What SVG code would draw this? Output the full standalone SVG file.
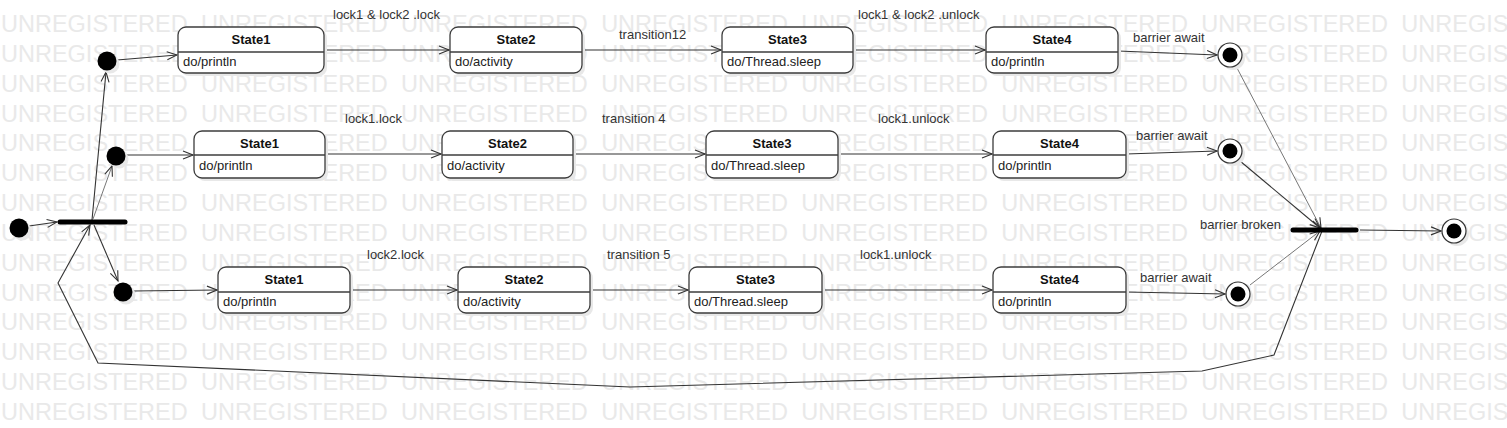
<svg xmlns="http://www.w3.org/2000/svg" width="1507" height="428" viewBox="0 0 1507 428">
<defs>
<style>
.wm{font-family:"Liberation Sans",Arial,sans-serif;font-size:23.5px;fill:#e9e9e9;word-spacing:6.8px}
.box{fill:#fff;stroke:#3c3c3c;stroke-width:1.3}
.shadow{fill:#e8e8e8}
.div{stroke:#3c3c3c;stroke-width:1.3}
.title{font-family:"Liberation Sans",Arial,sans-serif;font-size:13px;font-weight:bold;fill:#111;text-anchor:middle}
.body{font-family:"Liberation Sans",Arial,sans-serif;font-size:13px;fill:#222}
.lbl{font-family:"Liberation Sans",Arial,sans-serif;font-size:13px;fill:#333}
.conn{fill:none;stroke:#333;stroke-width:1.1}
.thin{fill:none;stroke:#777;stroke-width:1}
.bar{stroke:#000;stroke-width:5;stroke-linecap:round}
.init{fill:#000}
.fin{fill:#fff;stroke:#333;stroke-width:1.2}
</style>
<marker id="arr" viewBox="0 0 12 10" refX="11" refY="5" markerWidth="12" markerHeight="10" markerUnits="userSpaceOnUse" orient="auto">
<path d="M1,1 L11,5 L1,9" fill="none" stroke="#333" stroke-width="1.1"/>
</marker>
</defs>
<rect width="1507" height="428" fill="#fff"/>
<g id="watermark">
<text class="wm" x="1" y="32">UNREGISTERED UNREGISTERED UNREGISTERED UNREGISTERED UNREGISTERED UNREGISTERED UNREGISTERED UNREGISTERED</text>
<text class="wm" x="1" y="62">UNREGISTERED UNREGISTERED UNREGISTERED UNREGISTERED UNREGISTERED UNREGISTERED UNREGISTERED UNREGISTERED</text>
<text class="wm" x="1" y="92">UNREGISTERED UNREGISTERED UNREGISTERED UNREGISTERED UNREGISTERED UNREGISTERED UNREGISTERED UNREGISTERED</text>
<text class="wm" x="1" y="122">UNREGISTERED UNREGISTERED UNREGISTERED UNREGISTERED UNREGISTERED UNREGISTERED UNREGISTERED UNREGISTERED</text>
<text class="wm" x="1" y="151">UNREGISTERED UNREGISTERED UNREGISTERED UNREGISTERED UNREGISTERED UNREGISTERED UNREGISTERED UNREGISTERED</text>
<text class="wm" x="1" y="181">UNREGISTERED UNREGISTERED UNREGISTERED UNREGISTERED UNREGISTERED UNREGISTERED UNREGISTERED UNREGISTERED</text>
<text class="wm" x="1" y="211">UNREGISTERED UNREGISTERED UNREGISTERED UNREGISTERED UNREGISTERED UNREGISTERED UNREGISTERED UNREGISTERED</text>
<text class="wm" x="1" y="241">UNREGISTERED UNREGISTERED UNREGISTERED UNREGISTERED UNREGISTERED UNREGISTERED UNREGISTERED UNREGISTERED</text>
<text class="wm" x="1" y="271">UNREGISTERED UNREGISTERED UNREGISTERED UNREGISTERED UNREGISTERED UNREGISTERED UNREGISTERED UNREGISTERED</text>
<text class="wm" x="1" y="301">UNREGISTERED UNREGISTERED UNREGISTERED UNREGISTERED UNREGISTERED UNREGISTERED UNREGISTERED UNREGISTERED</text>
<text class="wm" x="1" y="330">UNREGISTERED UNREGISTERED UNREGISTERED UNREGISTERED UNREGISTERED UNREGISTERED UNREGISTERED UNREGISTERED</text>
<text class="wm" x="1" y="360">UNREGISTERED UNREGISTERED UNREGISTERED UNREGISTERED UNREGISTERED UNREGISTERED UNREGISTERED UNREGISTERED</text>
<text class="wm" x="1" y="390">UNREGISTERED UNREGISTERED UNREGISTERED UNREGISTERED UNREGISTERED UNREGISTERED UNREGISTERED UNREGISTERED</text>
<text class="wm" x="1" y="420">UNREGISTERED UNREGISTERED UNREGISTERED UNREGISTERED UNREGISTERED UNREGISTERED UNREGISTERED UNREGISTERED</text>
</g>
<g id="connectors">
<line class="conn" x1="29" y1="226" x2="57" y2="222" marker-end="url(#arr)"/>
<line class="conn" x1="92" y1="220" x2="106" y2="72" marker-end="url(#arr)"/>
<line class="thin" x1="93" y1="219" x2="112" y2="166" marker-end="url(#arr)"/>
<line class="conn" x1="94" y1="225" x2="118" y2="281" marker-end="url(#arr)"/>
<line class="conn" x1="117" y1="60" x2="177" y2="55" marker-end="url(#arr)"/>
<line class="conn" x1="126" y1="155" x2="193" y2="155" marker-end="url(#arr)"/>
<line class="conn" x1="133" y1="291" x2="217" y2="290" marker-end="url(#arr)"/>
<line class="conn" x1="324" y1="50" x2="449" y2="50" marker-end="url(#arr)"/>
<line class="conn" x1="582" y1="50" x2="721" y2="50" marker-end="url(#arr)"/>
<line class="conn" x1="853" y1="50" x2="985" y2="50" marker-end="url(#arr)"/>
<line class="conn" x1="325" y1="154" x2="441" y2="154" marker-end="url(#arr)"/>
<line class="conn" x1="573" y1="154" x2="705" y2="154" marker-end="url(#arr)"/>
<line class="conn" x1="838" y1="154" x2="992" y2="154" marker-end="url(#arr)"/>
<line class="conn" x1="350" y1="290" x2="457" y2="290" marker-end="url(#arr)"/>
<line class="conn" x1="590" y1="290" x2="688" y2="290" marker-end="url(#arr)"/>
<line class="conn" x1="822" y1="290" x2="992" y2="290" marker-end="url(#arr)"/>
<line class="conn" x1="1118" y1="51" x2="1217" y2="55" marker-end="url(#arr)"/>
<line class="conn" x1="1126" y1="154" x2="1217" y2="151" marker-end="url(#arr)"/>
<line class="conn" x1="1126" y1="292" x2="1225" y2="294" marker-end="url(#arr)"/>
<line class="thin" x1="1237" y1="68" x2="1321" y2="228" marker-end="url(#arr)"/>
<line class="conn" x1="1240" y1="161" x2="1320" y2="228" marker-end="url(#arr)"/>
<line class="thin" x1="1250" y1="285" x2="1320" y2="231" marker-end="url(#arr)"/>
<line class="conn" x1="1360" y1="230" x2="1441" y2="231" marker-end="url(#arr)"/>
<polyline class="conn" points="1322,231 1274,355 1202,371 630,387 98,363 58,283 90,225" marker-end="url(#arr)"/>
</g>
<g id="labels">
<text class="lbl" x="333" y="19">lock1 &amp; lock2 .lock</text>
<text class="lbl" x="619" y="39">transition12</text>
<text class="lbl" x="858" y="19">lock1 &amp; lock2 .unlock</text>
<text class="lbl" x="1133" y="42">barrier await</text>
<text class="lbl" x="345" y="123">lock1.lock</text>
<text class="lbl" x="602" y="123">transition 4</text>
<text class="lbl" x="878" y="123">lock1.unlock</text>
<text class="lbl" x="1136" y="140">barrier await</text>
<text class="lbl" x="367" y="259">lock2.lock</text>
<text class="lbl" x="607" y="259">transition 5</text>
<text class="lbl" x="860" y="259">lock1.unlock</text>
<text class="lbl" x="1140" y="282">barrier await</text>
<text class="lbl" x="1200" y="229">barrier broken</text>
</g>
<g id="start">
<circle cx="22" cy="231" r="9.5" class="shadow"/>
<circle cx="19" cy="228" r="9.5" class="init"/>
</g>
<g id="fork"><line class="bar" x1="60" y1="222" x2="125" y2="222"/></g>
<g id="init1"><circle cx="110" cy="64" r="9.5" class="shadow"/><circle cx="107" cy="61" r="9.5" class="init"/></g>
<g id="init2"><circle cx="119" cy="159" r="9.5" class="shadow"/><circle cx="116" cy="156" r="9.5" class="init"/></g>
<g id="init3"><circle cx="126" cy="295" r="9.5" class="shadow"/><circle cx="123" cy="292" r="9.5" class="init"/></g>
<g id="r1s1"><rect x="181" y="30" width="146" height="46" rx="8" class="shadow"/><rect x="178" y="27" width="146" height="46" rx="8" class="box"/><line class="div" x1="178" y1="52" x2="324" y2="52"/><text class="title" x="251" y="44">State1</text><text class="body" x="183" y="66">do/println</text></g>
<g id="r1s2"><rect x="453" y="30" width="132" height="46" rx="8" class="shadow"/><rect x="450" y="27" width="132" height="46" rx="8" class="box"/><line class="div" x1="450" y1="52" x2="582" y2="52"/><text class="title" x="516" y="44">State2</text><text class="body" x="455" y="66">do/activity</text></g>
<g id="r1s3"><rect x="725" y="30" width="131" height="46" rx="8" class="shadow"/><rect x="722" y="27" width="131" height="46" rx="8" class="box"/><line class="div" x1="722" y1="52" x2="853" y2="52"/><text class="title" x="787.5" y="44">State3</text><text class="body" x="727" y="66">do/Thread.sleep</text></g>
<g id="r1s4"><rect x="989" y="30" width="132" height="46" rx="8" class="shadow"/><rect x="986" y="27" width="132" height="46" rx="8" class="box"/><line class="div" x1="986" y1="52" x2="1118" y2="52"/><text class="title" x="1052" y="44">State4</text><text class="body" x="991" y="66">do/println</text></g>
<g id="r2s1"><rect x="197" y="134" width="131" height="47" rx="8" class="shadow"/><rect x="194" y="131" width="131" height="47" rx="8" class="box"/><line class="div" x1="194" y1="155" x2="325" y2="155"/><text class="title" x="259.5" y="148">State1</text><text class="body" x="199" y="170">do/println</text></g>
<g id="r2s2"><rect x="445" y="134" width="131" height="47" rx="8" class="shadow"/><rect x="442" y="131" width="131" height="47" rx="8" class="box"/><line class="div" x1="442" y1="155" x2="573" y2="155"/><text class="title" x="507.5" y="148">State2</text><text class="body" x="447" y="170">do/activity</text></g>
<g id="r2s3"><rect x="709" y="134" width="132" height="47" rx="8" class="shadow"/><rect x="706" y="131" width="132" height="47" rx="8" class="box"/><line class="div" x1="706" y1="155" x2="838" y2="155"/><text class="title" x="772" y="148">State3</text><text class="body" x="711" y="170">do/Thread.sleep</text></g>
<g id="r2s4"><rect x="996" y="134" width="133" height="47" rx="8" class="shadow"/><rect x="993" y="131" width="133" height="47" rx="8" class="box"/><line class="div" x1="993" y1="155" x2="1126" y2="155"/><text class="title" x="1059.5" y="148">State4</text><text class="body" x="998" y="170">do/println</text></g>
<g id="r3s1"><rect x="221" y="270" width="132" height="46" rx="8" class="shadow"/><rect x="218" y="267" width="132" height="46" rx="8" class="box"/><line class="div" x1="218" y1="292" x2="350" y2="292"/><text class="title" x="284" y="284">State1</text><text class="body" x="223" y="306">do/println</text></g>
<g id="r3s2"><rect x="461" y="270" width="132" height="46" rx="8" class="shadow"/><rect x="458" y="267" width="132" height="46" rx="8" class="box"/><line class="div" x1="458" y1="292" x2="590" y2="292"/><text class="title" x="524" y="284">State2</text><text class="body" x="463" y="306">do/activity</text></g>
<g id="r3s3"><rect x="692" y="270" width="133" height="46" rx="8" class="shadow"/><rect x="689" y="267" width="133" height="46" rx="8" class="box"/><line class="div" x1="689" y1="292" x2="822" y2="292"/><text class="title" x="755.5" y="284">State3</text><text class="body" x="694" y="306">do/Thread.sleep</text></g>
<g id="r3s4"><rect x="996" y="270" width="133" height="46" rx="8" class="shadow"/><rect x="993" y="267" width="133" height="46" rx="8" class="box"/><line class="div" x1="993" y1="292" x2="1126" y2="292"/><text class="title" x="1059.5" y="284">State4</text><text class="body" x="998" y="306">do/println</text></g>
<g id="final1"><circle cx="1233" cy="58" r="12" class="shadow"/><circle cx="1230" cy="55" r="12" class="fin"/><circle cx="1230" cy="55" r="7.5" class="init"/></g>
<g id="final2"><circle cx="1233" cy="154" r="12" class="shadow"/><circle cx="1230" cy="151" r="12" class="fin"/><circle cx="1230" cy="151" r="7.5" class="init"/></g>
<g id="final3"><circle cx="1241" cy="297" r="12" class="shadow"/><circle cx="1238" cy="294" r="12" class="fin"/><circle cx="1238" cy="294" r="7.5" class="init"/></g>
<g id="join"><line class="bar" x1="1293" y1="230" x2="1356" y2="230"/></g>
<g id="final4"><circle cx="1457" cy="234" r="12" class="shadow"/><circle cx="1454" cy="231" r="12" class="fin"/><circle cx="1454" cy="231" r="7.5" class="init"/></g>
</svg>
